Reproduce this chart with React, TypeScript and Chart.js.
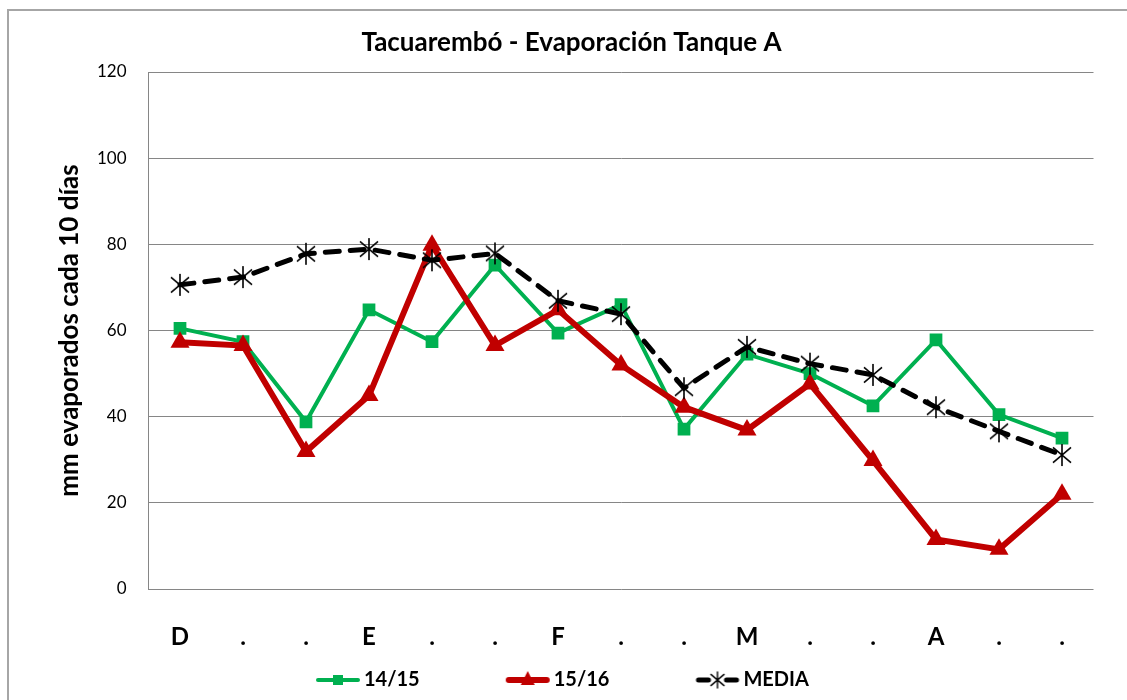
import React, { useEffect, useRef } from "react";
import { Chart, registerables } from "chart.js";

Chart.register(...registerables);

const titleText = "Tacuarembó - Evaporación Tanque A";
const yTitle = "mm evaporados cada 10 días";
const categories = ["D", ".", ".", "E", ".", ".", "F", ".", ".", "M", ".", ".", "A", ".", "."];
const seriesNames = ["14/15", "15/16", "MEDIA"];
const serie1415 = [60.5, 57.4, 38.8, 64.8, 57.4, 75.2, 59.4, 66.0, 37.1, 54.5, 50.0, 42.5, 57.8, 40.5, 35.0];
const serie1516 = [57.3, 56.5, 31.9, 44.9, 79.8, 56.5, 64.8, 52.0, 42.2, 36.9, 47.6, 29.8, 11.5, 9.2, 22.0];
const serieMedia = [70.6, 72.4, 77.8, 78.9, 76.3, 77.9, 66.9, 63.8, 46.6, 56.2, 52.3, 49.7, 42.2, 36.6, 31.1];
const yMin = 0;
const yMax = 120;
const yStep = 20;

const GREEN = "#00B050";
const RED = "#C00000";
const BLACK = "#000000";
const GRID = "#868686";
const FONT = "Lato";

function makeCanvas(w: number, h: number) {
  const c = document.createElement("canvas");
  c.width = w;
  c.height = h;
  return c;
}

function drawAsterisk(ctx: CanvasRenderingContext2D, cx: number, cy: number, r: number, lw: number) {
  ctx.save();
  ctx.strokeStyle = BLACK;
  ctx.lineWidth = lw;
  ctx.beginPath();
  ctx.moveTo(cx, cy - r);
  ctx.lineTo(cx, cy + r);
  const dx = r * 0.82;
  const dy = r * 0.7;
  ctx.moveTo(cx - dx, cy - dy);
  ctx.lineTo(cx + dx, cy + dy);
  ctx.moveTo(cx + dx, cy - dy);
  ctx.lineTo(cx - dx, cy + dy);
  ctx.stroke();
  ctx.restore();
}

function asteriskPoint() {
  const c = makeCanvas(24, 24);
  const ctx = c.getContext("2d")!;
  drawAsterisk(ctx, 12, 12, 11, 1.6);
  return c;
}

// legend icons: image centred on the legend box; visible line sits at the right side
const LEG_W = 130;
const LEG_H = 24;
const LINE_A = 84;
const LINE_B = 128;

function legendIcon(kind: number) {
  const c = makeCanvas(LEG_W, LEG_H);
  const ctx = c.getContext("2d")!;
  const cy = LEG_H / 2;
  const mid = (LINE_A + LINE_B) / 2;
  ctx.lineCap = "round";
  if (kind === 0) {
    ctx.strokeStyle = GREEN;
    ctx.lineWidth = 4;
    ctx.beginPath();
    ctx.moveTo(LINE_A + 2, cy);
    ctx.lineTo(LINE_B - 2, cy);
    ctx.stroke();
    ctx.fillStyle = GREEN;
    ctx.fillRect(mid - 5, cy - 5, 10, 10);
  } else if (kind === 1) {
    ctx.strokeStyle = RED;
    ctx.lineWidth = 6;
    ctx.beginPath();
    ctx.moveTo(LINE_A + 3, cy);
    ctx.lineTo(LINE_B - 3, cy);
    ctx.stroke();
    ctx.fillStyle = RED;
    ctx.beginPath();
    ctx.moveTo(mid, cy - 9);
    ctx.lineTo(mid + 7, cy + 5);
    ctx.lineTo(mid - 7, cy + 5);
    ctx.closePath();
    ctx.fill();
  } else {
    ctx.strokeStyle = BLACK;
    ctx.lineWidth = 5;
    ctx.beginPath();
    ctx.moveTo(LINE_A + 3, cy);
    ctx.lineTo(mid - 9, cy);
    ctx.moveTo(mid + 9, cy);
    ctx.lineTo(LINE_B - 3, cy);
    ctx.stroke();
    drawAsterisk(ctx, mid, cy, 8, 1.4);
  }
  return c;
}

const legendShift = {
  id: "legendShift",
  afterLayout(chart: any) {
    const lg = chart.legend;
    if (lg) {
      const w = lg.right - lg.left;
      lg.left = 230;
      lg.right = 230 + w;
    }
  },
};

export default function App() {
  const ref = useRef<HTMLCanvasElement | null>(null);

  useEffect(() => {
    if (!ref.current) return;
    const star = asteriskPoint();
    const icons = [legendIcon(0), legendIcon(1), legendIcon(2)];
    const chart = new Chart(ref.current, {
      type: "line",
      data: {
        labels: categories,
        datasets: [
          {
            label: seriesNames[0],
            data: serie1415,
            borderColor: GREEN,
            backgroundColor: GREEN,
            borderWidth: 4,
            pointStyle: "rect",
            pointRadius: 9,
            pointBorderWidth: 0,
            tension: 0,
            order: 3,
          },
          {
            label: seriesNames[1],
            data: serie1516,
            borderColor: RED,
            backgroundColor: RED,
            borderWidth: 6,
            pointStyle: "triangle",
            pointRadius: 11,
            pointBorderWidth: 0,
            tension: 0,
            order: 2,
          },
          {
            label: seriesNames[2],
            data: serieMedia,
            borderColor: BLACK,
            backgroundColor: BLACK,
            borderWidth: 5,
            borderDash: [14, 11],
            borderCapStyle: "round",
            pointStyle: star as any,
            pointRadius: 11,
            tension: 0,
            order: 1,
          },
        ],
      },
      options: {
        responsive: false,
        animation: false,
        layout: { padding: { left: 49.5, right: 33.5, top: 0, bottom: 0 } },
        plugins: {
          title: {
            display: true,
            text: titleText,
            color: BLACK,
            font: { family: FONT, size: 26, weight: "bold" },
            padding: { top: 27.4, bottom: 13.4 },
          },
          legend: {
            position: "bottom",
            align: "start",
            labels: {
              usePointStyle: true,
              pointStyleWidth: 114,
              padding: 10,
              color: BLACK,
              font: { family: FONT, size: 20, weight: "bold" },
              sort: (a: any, b: any) => a.datasetIndex - b.datasetIndex,
              generateLabels: (ch: any) =>
                ch.data.datasets.map((ds: any, i: number) => ({
                  text: ds.label,
                  fillStyle: ds.borderColor,
                  strokeStyle: ds.borderColor,
                  lineWidth: 0,
                  pointStyle: icons[i],
                  datasetIndex: i,
                  hidden: false,
                })),
            },
          },
          tooltip: { enabled: false },
        },
        scales: {
          x: {
            offset: true,
            grid: { display: false, offset: true },
            border: { display: false },
            ticks: {
              color: BLACK,
              font: { family: FONT, size: 24, weight: "bold" },
              padding: 26,
              autoSkip: false,
              maxRotation: 0,
            },
            afterFit: (s: any) => {
              s.height = 71;
            },
          },
          y: {
            min: yMin,
            max: yMax,
            ticks: {
              stepSize: yStep,
              color: BLACK,
              font: { family: FONT, size: 17 },
              padding: 22,
            },
            grid: { color: GRID, lineWidth: 1, drawTicks: false },
            border: { display: true, color: GRID, width: 1 },
            title: {
              display: true,
              text: yTitle,
              color: BLACK,
              font: { family: FONT, size: 26, weight: "bold" },
              padding: { top: 4.9, bottom: 0 },
            },
            afterFit: (s: any) => {
              s.width = 99;
            },
          },
        },
      } as any,
      plugins: [legendShift],
    });
    return () => chart.destroy();
  }, []);

  return (
    <div
      style={{
        position: "fixed",
        left: 0,
        top: 0,
        width: 1127,
        height: 700,
        overflow: "hidden",
        background: "#ffffff",
      }}
    >
      <div
        style={{
          position: "absolute",
          left: 7,
          top: 9,
          width: 1300,
          height: 1000,
          border: "2px solid #a6a6a6",
          boxSizing: "border-box",
        }}
      />
      <canvas
        ref={ref}
        width={1127}
        height={700}
        style={{ position: "absolute", left: 0, top: 0, width: 1127, height: 700 }}
      />
    </div>
  );
}
